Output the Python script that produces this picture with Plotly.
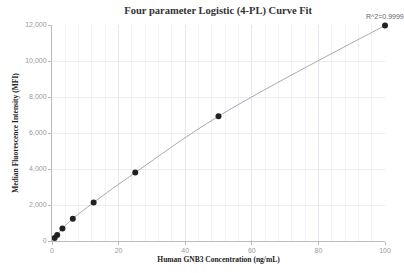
import plotly.graph_objects as go

conc = [0.78125, 1.5625, 3.125, 6.25, 12.5, 25, 50, 100]
mfi = [170, 340, 700, 1240, 2140, 3800, 6930, 11970]
x_ticks = [0, 20, 40, 60, 80, 100]
y_ticks = [0, 2000, 4000, 6000, 8000, 10000, 12000]
r2_label = "R^2=0.9999"

fig = go.Figure()
fig.add_trace(go.Scatter(
    x=conc, y=mfi, mode="lines", line=dict(color="#aaaaaa", width=1, shape="spline"),
    hoverinfo="skip", showlegend=False, cliponaxis=False))
fig.add_trace(go.Scatter(
    x=conc, y=mfi, mode="markers", marker=dict(color="#222222", size=6),
    showlegend=False, cliponaxis=False))

fig.add_annotation(x=conc[-1], y=mfi[-1], text=r2_label, showarrow=False,
                   yshift=9, xanchor="center", font=dict(family="Liberation Sans, Arial", size=7, color="#666666"))

fig.update_layout(
    width=404, height=273,
    margin=dict(l=52, r=19, t=25, b=32, autoexpand=False),
    paper_bgcolor="white", plot_bgcolor="white",
    title=dict(text="<b>Four parameter Logistic (4-PL) Curve Fit</b>", x=0.54, xanchor="center",
               y=0.963, yanchor="middle", automargin=False,
               font=dict(family="Liberation Serif, Times New Roman", size=10.5, color="#333333")),
    xaxis=dict(range=[0, 100], tickvals=x_ticks, ticktext=[str(v) for v in x_ticks],
               automargin=False,
               showline=True, linecolor="#bbbbbb", linewidth=1,
               ticks="outside", ticklen=3, tickcolor="#bbbbbb",
               showgrid=True, gridcolor="#e6e6f0", gridwidth=1, zeroline=False,
               minor=dict(dtick=4, showgrid=True, gridcolor="#f1f1f7", ticks=""),
               tickfont=dict(family="Liberation Sans, Arial", size=7, color="#999999"),
               title=dict(text="<b>Human GNB3 Concentration (ng/mL)</b>", standoff=3,
                          font=dict(family="Liberation Serif, Times New Roman", size=7.5, color="#222222"))),
    yaxis=dict(range=[0, 12000], tickvals=y_ticks, tickformat=",",
               automargin=False,
               showline=True, linecolor="#bbbbbb", linewidth=1,
               ticks="outside", ticklen=3, tickcolor="#bbbbbb",
               showgrid=True, gridcolor="#ececf4", gridwidth=1, zeroline=False,
               tickfont=dict(family="Liberation Sans, Arial", size=7, color="#999999"),
               title=dict(text="<b>Median Fluorescence Intensity (MFI)</b>", standoff=5,
                          font=dict(family="Liberation Serif, Times New Roman", size=7.5, color="#222222"))),
)

fig.write_html("out.html", config={"displayModeBar": False},
               post_script="document.body.style.margin='0';document.body.style.overflow='hidden';")
